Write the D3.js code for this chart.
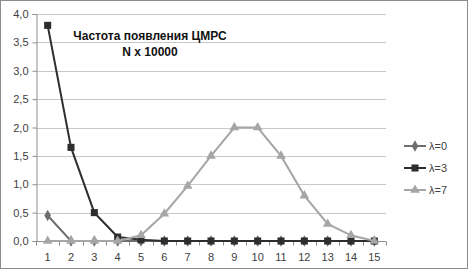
<!DOCTYPE html>
<html>
<head>
<meta charset="utf-8">
<script src="https://cdn.jsdelivr.net/npm/d3@7"></script>
<style>
  body { margin: 0; background: #fff; }
  text { font-family: "Liberation Sans", Arial, sans-serif; }
</style>
</head>
<body>
<svg id="chart"></svg>
<script>
// chart data
var categories = [1, 2, 3, 4, 5, 6, 7, 8, 9, 10, 11, 12, 13, 14, 15];
var lambda0 = [0.45, 0, 0, 0, 0, 0, 0, 0, 0, 0, 0, 0, 0, 0, 0];
var lambda3 = [3.8, 1.65, 0.5, 0.07, 0.02, 0, 0, 0, 0, 0, 0, 0, 0, 0, 0];
var lambda7 = [0, 0, 0, 0, 0.1, 0.48, 0.97, 1.5, 2.0, 2.0, 1.5, 0.8, 0.3, 0.1, 0];
var yTicks = [0, 0.5, 1, 1.5, 2, 2.5, 3, 3.5, 4];
var seriesNames = ["λ=0", "λ=3", "λ=7"];

var width = 469, height = 271;
var plot = { left: 36, right: 386, top: 14, bottom: 241 };

var svg = d3.select("#chart").attr("width", width).attr("height", height);

// outer border
svg.append("rect")
    .attr("x", 0.5).attr("y", 0.5)
    .attr("width", width - 2).attr("height", height - 3)
    .attr("fill", "#fff").attr("stroke", "#8c8c8c");

var x = d3.scaleBand().domain(categories).range([plot.left, plot.right]);
var y = d3.scaleLinear().domain([0, 4]).range([plot.bottom, plot.top]);

var fmt = function(d) { return d3.format(".1f")(d).replace(".", ","); };

// gridlines
svg.append("g").selectAll("line")
    .data(yTicks.slice(1))
    .enter().append("line")
    .attr("x1", plot.left).attr("x2", plot.right)
    .attr("y1", function(d) { return Math.round(y(d)) + 0.5; })
    .attr("y2", function(d) { return Math.round(y(d)) + 0.5; })
    .attr("stroke", "#c8c8c8");

// y axis
var yAxis = svg.append("g")
    .attr("transform", "translate(" + (plot.left + 0.5) + ",0)")
    .call(d3.axisLeft(y).tickValues(yTicks).tickFormat(fmt).tickSize(4).tickPadding(4));
yAxis.select(".domain").attr("stroke", "#8c8c8c");
yAxis.selectAll(".tick line").attr("stroke", "#8c8c8c");
yAxis.selectAll("text").attr("font-size", 11).attr("fill", "#404040")
    .attr("font-family", "Liberation Sans, Arial, sans-serif");

// x axis (ticks between categories)
var xAxisG = svg.append("g")
    .attr("transform", "translate(0," + (plot.bottom + 0.5) + ")");
xAxisG.append("line")
    .attr("x1", plot.left).attr("x2", plot.right)
    .attr("stroke", "#8c8c8c");
var bounds = categories.map(function(c) { return x(c); }).concat([plot.right]);
xAxisG.selectAll(".sep").data(bounds).enter().append("line")
    .attr("class", "sep")
    .attr("x1", function(d) { return Math.round(d) + 0.5; })
    .attr("x2", function(d) { return Math.round(d) + 0.5; })
    .attr("y1", 0).attr("y2", 4)
    .attr("stroke", "#8c8c8c");
xAxisG.selectAll(".lbl").data(categories).enter().append("text")
    .attr("class", "lbl")
    .attr("x", function(d) { return x(d) + x.bandwidth() / 2; })
    .attr("y", 19)
    .attr("text-anchor", "middle")
    .attr("font-size", 11).attr("fill", "#404040")
    .text(function(d) { return d; });

var cx = function(d, i) { return x(categories[i]) + x.bandwidth() / 2; };
var line = d3.line().x(cx).y(function(d) { return y(d); });

var series = [
    { name: seriesNames[0], values: lambda0, color: "#6e6e6e", symbol: d3.symbolDiamond, size: 38, width: 2 },
    { name: seriesNames[1], values: lambda3, color: "#2e2e2e", symbol: d3.symbolSquare, size: 50, width: 2 },
    { name: seriesNames[2], values: lambda7, color: "#a6a6a6", symbol: d3.symbolTriangle, size: 40, width: 2 }
];

series.forEach(function(s) {
    svg.append("path")
        .datum(s.values)
        .attr("d", line)
        .attr("fill", "none")
        .attr("stroke", s.color)
        .attr("stroke-width", s.width);
    svg.append("g").selectAll("path")
        .data(s.values)
        .enter().append("path")
        .attr("transform", function(d, i) { return "translate(" + cx(d, i) + "," + y(d) + ")"; })
        .attr("d", d3.symbol().type(s.symbol).size(s.size))
        .attr("fill", s.color);
});

// legend
var legend = svg.append("g").attr("transform", "translate(404,146)");
series.forEach(function(s, i) {
    var g = legend.append("g").attr("transform", "translate(0," + (i * 22) + ")");
    g.append("line").attr("x1", 0).attr("x2", 22).attr("stroke", s.color).attr("stroke-width", 2);
    g.append("path").attr("transform", "translate(11,0)")
        .attr("d", d3.symbol().type(s.symbol).size(s.size)).attr("fill", s.color);
    g.append("text").attr("x", 25).attr("y", 4)
        .attr("font-size", 11).attr("fill", "#404040").text(s.name);
});

// title
var title = svg.append("text")
    .attr("x", 150).attr("y", 40)
    .attr("text-anchor", "middle")
    .attr("font-size", 12).attr("font-weight", "bold").attr("fill", "#111");
title.append("tspan").attr("x", 150).text("Частота появления ЦМРС");
title.append("tspan").attr("x", 150).attr("dy", 16).text("N x 10000");
</script>
</body>
</html>
